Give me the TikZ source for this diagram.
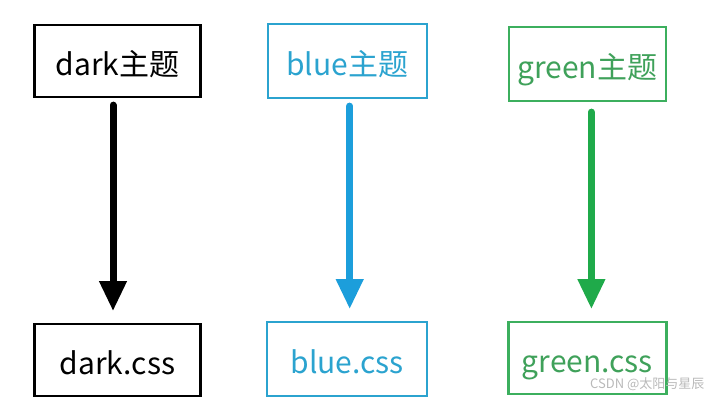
\documentclass[tikz,border=0pt]{standalone}
\usepackage{fontspec}
\setmainfont{Noto Sans CJK SC}
\usetikzlibrary{arrows.meta, positioning}

\definecolor{themeblue}{HTML}{2BA3CF}
\definecolor{arrowblue}{HTML}{1C9EDB}
\definecolor{themegreen}{HTML}{3CAF5E}
\definecolor{textgreen}{HTML}{3FA15A}
\definecolor{arrowgreen}{HTML}{1FAA4A}

\begin{document}
\begin{tikzpicture}[
    x=1pt, y=-1pt,
    font=\fontsize{30}{34}\selectfont,
    theme/.style={draw, line width=2.2pt, minimum width=166pt, minimum height=72pt,
                  inner sep=0pt, text height=30pt, text depth=2pt},
    file/.style={theme},
    flow/.style={-{Triangle[length=30pt, width=26pt]}, line width=7pt,
                 line cap=round, shorten <=7pt, shorten >=12pt},
]
    \useasboundingbox (0,0) rectangle (717,402);

    %==================== THEMES ====================
    \node[theme] (dark) at (117.5,61) {dark主题};
    \node[theme, draw=themeblue, text=themeblue, minimum width=159pt, minimum height=74pt,
          right=65pt of dark] (blue) {blue主题};
    \node[theme, draw=themegreen, text=textgreen, minimum width=157pt, minimum height=74pt,
          right=80pt of blue, yshift=-3pt] (green) {green主题};

    %==================== CSS FILES ====================
    \node[file, below=225pt of dark] (darkcss) {dark.css};
    \node[file, draw=themeblue, text=themeblue, minimum width=160pt, minimum height=74pt,
          below=222pt of blue] (bluecss) {blue.css};
    \node[file, draw=themegreen, text=textgreen, minimum width=158pt, minimum height=72pt,
          below=219pt of green] (greencss) {green.css};

    %==================== ARROWS ====================
    \draw[flow] ([xshift=-4.5pt]dark.south) -- ([xshift=-4.5pt]dark.south |- darkcss.north);
    \draw[flow, arrowblue] ([xshift=2.5pt]blue.south) -- ([xshift=2.5pt]blue.south |- bluecss.north);
    \draw[flow, arrowgreen] ([xshift=4pt,yshift=-3pt]green.south) -- ([xshift=4pt]green.south |- greencss.north);

    %==================== watermark ====================
    \node[font=\fontsize{13}{14}\selectfont, text=gray!55, anchor=east] (mark)
        at (708,384) {CSDN @太阳与星辰};
\end{tikzpicture}
\end{document}
